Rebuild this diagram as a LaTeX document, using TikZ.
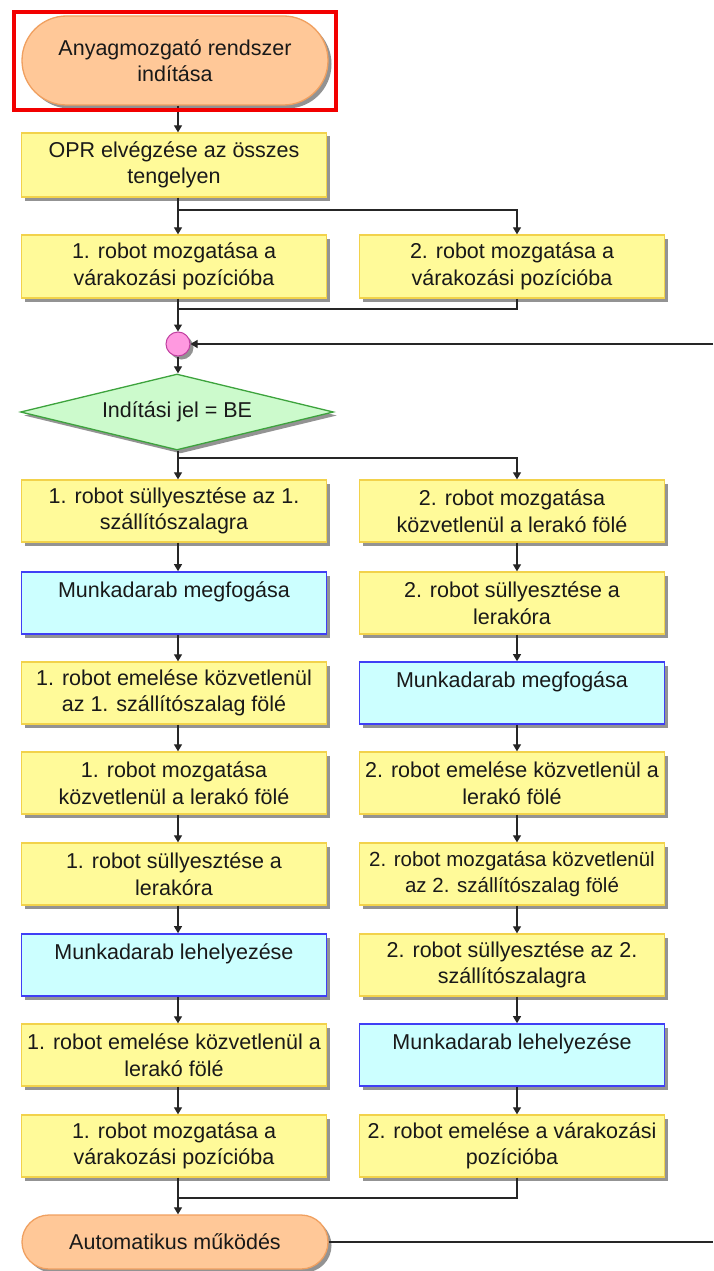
\documentclass[tikz,border=0pt]{standalone}
\usepackage{fontspec}
\setmainfont{Liberation Sans}
\usetikzlibrary{shapes.geometric,shapes.misc,shadows,arrows.meta,calc}
\definecolor{yfill}{HTML}{FFFA99}
\definecolor{ybord}{HTML}{F2D24B}
\definecolor{bfill}{HTML}{CCFFFF}
\definecolor{bbord}{HTML}{3F3FF5}
\definecolor{tfill}{HTML}{FFC898}
\definecolor{tbord}{HTML}{F0A060}
\definecolor{dfill}{HTML}{CCFACC}
\definecolor{dbord}{HTML}{3DA33D}
\definecolor{cfill}{HTML}{FF99E0}
\definecolor{cbord}{HTML}{C040A0}
\definecolor{lnc}{HTML}{262626}
\begin{document}
\begin{tikzpicture}[x=1pt,y=-1pt,
  every node/.style={font=\fontsize{21.5}{26.5}\selectfont, text=black!90, align=center, inner sep=0pt},
  shad/.style={drop shadow={shadow xshift=3.5pt,shadow yshift=-3.5pt,fill=black!60,opacity=0.7}},
  ybox/.style={shad, rectangle, draw=ybord, fill=yfill, line width=1.3pt, minimum width=305pt, minimum height=62pt},
  bbox/.style={shad, rectangle, draw=bbord, fill=bfill, line width=1.6pt, minimum width=305pt, minimum height=62pt},
  term/.style={shad, rounded rectangle, draw=tbord, fill=tfill, line width=1.3pt, minimum width=306pt},
  dec/.style={shad, diamond, aspect=4.12, draw=dbord, fill=dfill, line width=1.3pt, minimum width=313pt, minimum height=76pt},
  conn/.style={circle, draw=cbord, fill=cfill, line width=1pt, minimum size=24pt, shad},
  ln/.style={draw=lnc, line width=1.2pt},
  arr/.style={ln, -{Triangle[length=7pt,width=8pt]}}
]
\useasboundingbox (0,0) rectangle (713,1271);
\fill[white] (0,0) rectangle (713,1271);

\coordinate (spL) at (178,0);
\coordinate (spR) at (517,0);

\node[term, minimum height=89pt] (start) at (175,60.5) {Anyagmozgató rendszer\\indítása};
\node[ybox, minimum height=64pt] (opr) at (174,165) {OPR elvégzése az összes\\tengelyen};
\node[ybox, minimum height=63pt] (aL) at (174,266.5) {1. robot mozgatása a\\várakozási pozícióba};
\node[ybox, minimum height=63pt] (aR) at (512,266.5) {2. robot mozgatása a\\várakozási pozícióba};
\node[conn] (circ) at (178,344) {};
\node[dec] (dc) at (177,412) {Indítási jel = BE};

% left column
\node[ybox] (L1) at (174,511) {1. robot süllyesztése az 1.\\szállítószalagra};
\node[bbox] (L2) at (174,603) {Munkadarab megfogása\\~};
\node[ybox] (L3) at (174,693) {1. robot emelése közvetlenül\\az 1. szállítószalag fölé};
\node[ybox] (L4) at (174,783) {1. robot mozgatása\\közvetlenül a lerakó fölé};
\node[ybox] (L5) at (174,874) {1. robot süllyesztése a\\lerakóra};
\node[bbox] (L6) at (174,965) {Munkadarab lehelyezése\\~};
\node[ybox] (L7) at (174,1055) {1. robot emelése közvetlenül a\\lerakó fölé};
\node[ybox] (L8) at (174,1146) {1. robot mozgatása a\\várakozási pozícióba};

% right column
\node[ybox] (R1) at (512,511) {2. robot mozgatása\\közvetlenül a lerakó fölé};
\node[ybox] (R2) at (512,603) {2. robot süllyesztése a\\lerakóra};
\node[bbox] (R3) at (512,693) {Munkadarab megfogása\\~};
\node[ybox] (R4) at (512,783) {2. robot emelése közvetlenül a\\lerakó fölé};
\node[ybox, font=\fontsize{20.5}{26}\selectfont] (R5) at (512,874) {2. robot mozgatása közvetlenül\\az 2. szállítószalag fölé};
\node[ybox] (R6) at (512,965) {2. robot süllyesztése az 2.\\szállítószalagra};
\node[bbox] (R7) at (512,1055) {Munkadarab lehelyezése\\~};
\node[ybox] (R8) at (512,1146) {2. robot emelése a várakozási\\pozícióba};

\node[term, minimum height=54pt] (end) at (175,1242) {Automatikus működés};

% junction coordinates
\coordinate (s1) at (178,210);
\coordinate (m1) at (178,309);
\coordinate (s2) at (178,458);
\coordinate (m3) at (178,1198);
\coordinate (loopR) at (713,344);
\coordinate (endR) at (713,1242);

% connectors
\draw[arr] (start.south -| spL) -- (opr.north -| spL);
\draw[arr] (opr.south -| spL) -- (aL.north -| spL);
\draw[arr] (s1) -| (aR.north -| spR);
\draw[arr] (aL.south -| spL) -- (circ.north);
\draw[ln] (aR.south -| spR) |- (m1);
\draw[arr] (loopR) -- (circ.east);
\draw[arr] (circ.south) -- (dc.north -| spL);
\draw[arr] (dc.south -| spL) -- (L1.north -| spL);
\draw[arr] (s2) -| (R1.north -| spR);
\foreach \a/\b in {L1/L2,L2/L3,L3/L4,L4/L5,L5/L6,L6/L7,L7/L8}
  \draw[arr] (\a.south -| spL) -- (\b.north -| spL);
\foreach \a/\b in {R1/R2,R2/R3,R3/R4,R4/R5,R5/R6,R6/R7,R7/R8}
  \draw[arr] (\a.south -| spR) -- (\b.north -| spR);
\draw[arr] (L8.south -| spL) -- (end.north -| spL);
\draw[ln] (R8.south -| spR) |- (m3);
\draw[ln] (end.east) -- (endR);

% highlight frame
\node[draw=red!95!black, line width=4pt, minimum width=322pt, minimum height=98pt] (frame) at (175,61) {};
\end{tikzpicture}
\end{document}
